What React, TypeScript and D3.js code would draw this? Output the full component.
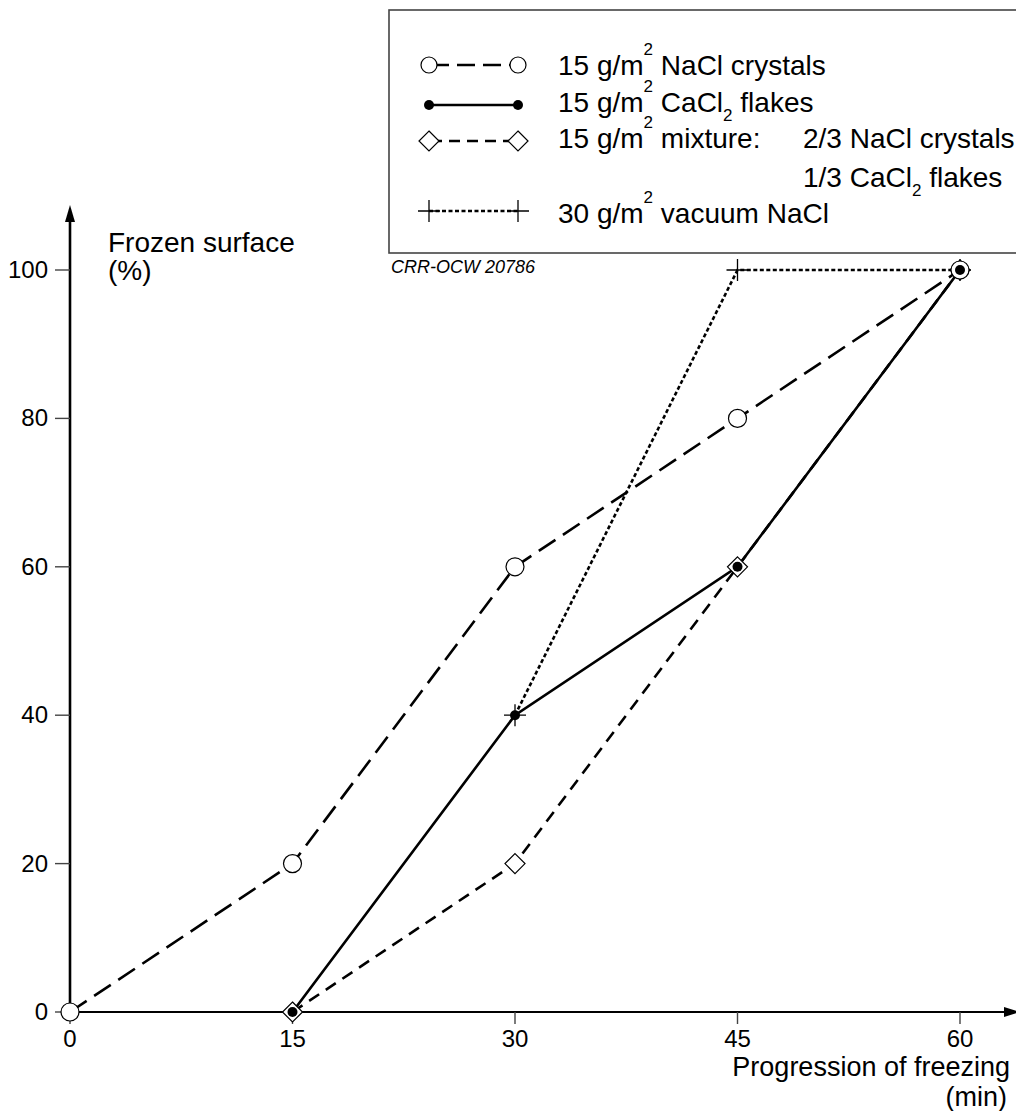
import * as d3 from "d3";
import React from "react";

// minutes of freezing and frozen surface (%) per de-icing treatment
const minutes = [0, 15, 30, 45, 60];
const naclCrystals = [0, 20, 60, 80, 100];
const cacl2Flakes = [null, 0, 40, 60, 100];
const mixture = [null, 0, 20, 60, 100];
const vacuumNacl = [null, null, 40, 100, 100];

const xTicks = [0, 15, 30, 45, 60];
const yTicks = [0, 20, 40, 60, 80, 100];

const FONT = "'Liberation Sans', Arial, Helvetica, sans-serif";

type Pt = [number, number];

const pts = (vals: (number | null)[]): Pt[] =>
  minutes.map((m, i) => [m, vals[i]] as [number, number | null])
    .filter((d) => d[1] !== null) as Pt[];

const App = () => {
  const width = 1016;
  const height = 1111;

  const x = d3.scaleLinear().domain([0, 60]).range([70, 960]);
  const y = d3.scaleLinear().domain([0, 100]).range([1012, 270]);

  const line = d3.line<Pt>().x((d) => x(d[0])).y((d) => y(d[1]));

  const s1 = pts(naclCrystals);
  const s2 = pts(cacl2Flakes);
  const s3 = pts(mixture);
  const s4 = pts(vacuumNacl);

  const diamond = (cx: number, cy: number, r: number) =>
    `M${cx},${cy - r}L${cx + r},${cy}L${cx},${cy + r}L${cx - r},${cy}Z`;
  const plus = (cx: number, cy: number, r: number) =>
    `M${cx - r},${cy}H${cx + r}M${cx},${cy - r}V${cy + r}`;

  // legend geometry
  const lx0 = 429;
  const lx1 = 518;
  const tx = 558;
  const rows = [65, 105, 141, 211];
  const base = [75, 112, 148, 187, 223];

  return (
    <svg
      width={width}
      height={height}
      style={{ position: "absolute", left: 0, top: 0, background: "#fff" }}
      fontFamily={FONT}
    >
      <rect x={0} y={0} width={width} height={height} fill="#fff" />

      {/* legend box */}
      <rect x={389} y={10} width={640} height={243} fill="none" stroke="#444" strokeWidth={1.6} />
      {/* row 1 */}
      <line x1={lx0} x2={lx1} y1={rows[0]} y2={rows[0]} stroke="#000" strokeWidth={2.6} strokeDasharray="18,8" strokeDashoffset={-2} />
      <circle cx={lx0} cy={rows[0]} r={8} fill="#fff" stroke="#000" strokeWidth={1.2} />
      <circle cx={lx1} cy={rows[0]} r={8} fill="#fff" stroke="#000" strokeWidth={1.2} />
      {/* row 2 */}
      <line x1={lx0} x2={lx1} y1={rows[1]} y2={rows[1]} stroke="#000" strokeWidth={2.6} />
      <circle cx={lx0} cy={rows[1]} r={5} fill="#000" />
      <circle cx={lx1} cy={rows[1]} r={5} fill="#000" />
      {/* row 3 */}
      <line x1={lx0} x2={lx1} y1={rows[2]} y2={rows[2]} stroke="#000" strokeWidth={2.6} strokeDasharray="11,7" strokeDashoffset={-2} />
      <path d={diamond(lx0, rows[2], 10)} fill="#fff" stroke="#000" strokeWidth={1.2} />
      <path d={diamond(lx1, rows[2], 10)} fill="#fff" stroke="#000" strokeWidth={1.2} />
      {/* row 5 */}
      <line x1={lx0} x2={lx1} y1={rows[3]} y2={rows[3]} stroke="#000" strokeWidth={2.6} strokeDasharray="4,2.5" />
      <path d={plus(lx0, rows[3], 11)} stroke="#000" strokeWidth={1.3} fill="none" />
      <path d={plus(lx1, rows[3], 11)} stroke="#000" strokeWidth={1.3} fill="none" />

      <g fontSize={28} fill="#000">
        <text x={tx} y={base[0]}>
          15 g/m<tspan dy={-20} fontSize={17}>2</tspan>
          <tspan dy={20}> NaCl crystals</tspan>
        </text>
        <text x={tx} y={base[1]}>
          15 g/m<tspan dy={-20} fontSize={17}>2</tspan>
          <tspan dy={20}> CaCl</tspan>
          <tspan dy={9} fontSize={17}>2</tspan>
          <tspan dy={-9}> flakes</tspan>
        </text>
        <text x={tx} y={base[2]}>
          15 g/m<tspan dy={-20} fontSize={17}>2</tspan>
          <tspan dy={20}> mixture:</tspan>
        </text>
        <text x={803} y={base[2]}>2/3 NaCl crystals</text>
        <text x={803} y={base[3]}>
          1/3 CaCl<tspan dy={9} fontSize={17}>2</tspan>
          <tspan dy={-9}> flakes</tspan>
        </text>
        <text x={tx} y={base[4]}>
          30 g/m<tspan dy={-20} fontSize={17}>2</tspan>
          <tspan dy={20}> vacuum NaCl</tspan>
        </text>
      </g>
      <text x={391} y={273} fontSize={18} fontStyle="italic" fill="#000">
        CRR-OCW 20786
      </text>

      {/* axes */}
      <line x1={x(0)} x2={x(0)} y1={y(0)} y2={218} stroke="#000" strokeWidth={2.6} />
      <path d={`M${x(0)},205L${x(0) + 5},222L${x(0) - 5},222Z`} fill="#000" />
      <line x1={x(0)} x2={1010} y1={y(0)} y2={y(0)} stroke="#000" strokeWidth={2} />
      <path d={`M1020,${y(0)}L1004,${y(0) - 5}L1004,${y(0) + 5}Z`} fill="#000" />

      {yTicks.map((t) => (
        <g key={`y${t}`}>
          <line x1={x(0) - 15} x2={x(0)} y1={y(t)} y2={y(t)} stroke="#444" strokeWidth={1.4} />
          <text x={48} y={y(t) + 8} textAnchor="end" fontSize={24}>
            {t}
          </text>
        </g>
      ))}
      {xTicks.map((t) => (
        <g key={`x${t}`}>
          <line x1={x(t)} x2={x(t)} y1={y(0)} y2={y(0) + 12} stroke="#444" strokeWidth={1.4} />
          <text x={x(t)} y={1047} textAnchor="middle" fontSize={24}>
            {t}
          </text>
        </g>
      ))}

      <text x={108} y={252} fontSize={28}>Frozen surface</text>
      <text x={108} y={280} fontSize={28}>(%)</text>
      <text x={1010} y={1076} fontSize={27} textAnchor="end">Progression of freezing</text>
      <text x={1007} y={1106} fontSize={27} textAnchor="end">(min)</text>

      {/* series lines */}
      <path d={line(s1) || ""} fill="none" stroke="#000" strokeWidth={2.6} strokeDasharray="20,9" />
      <path d={line(s3) || ""} fill="none" stroke="#000" strokeWidth={2.6} strokeDasharray="12,8" />
      <path d={line(s4) || ""} fill="none" stroke="#000" strokeWidth={2.6} strokeDasharray="4,2.5" />
      <path d={line(s2) || ""} fill="none" stroke="#000" strokeWidth={2.6} />

      {/* markers */}
      {s3.map((d, i) => (
        <path key={`d${i}`} d={diamond(x(d[0]), y(d[1]), 10)} fill="#fff" stroke="#000" strokeWidth={1.2} />
      ))}
      {s4.map((d, i) => (
        <path key={`p${i}`} d={plus(x(d[0]), y(d[1]), 11)} fill="none" stroke="#000" strokeWidth={1.3} />
      ))}
      {s1.map((d, i) => (
        <circle key={`c${i}`} cx={x(d[0])} cy={y(d[1])} r={9} fill="#fff" stroke="#000" strokeWidth={1.2} />
      ))}
      {s2.map((d, i) => (
        <circle key={`f${i}`} cx={x(d[0])} cy={y(d[1])} r={5} fill="#000" />
      ))}
    </svg>
  );
};

export default App;
